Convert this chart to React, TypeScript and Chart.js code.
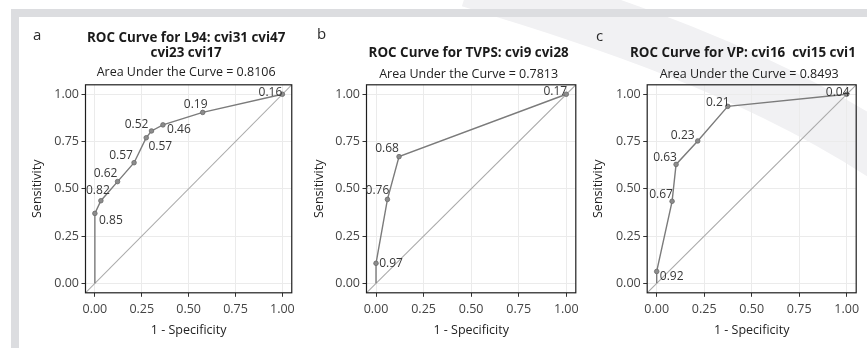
import React, { useEffect, useRef } from "react";
import { Chart, registerables } from "chart.js";

Chart.register(...registerables);

const FONT = "'Open Sans', 'Noto Sans', sans-serif";

// ---------- data ----------
const tickValues = [0, 0.25, 0.5, 0.75, 1];

// Panel a : L94
const fprA = [0, 0, 0.032, 0.121, 0.209, 0.274, 0.302, 0.363, 0.575, 1.0];
const tprA = [0, 0.37, 0.437, 0.538, 0.638, 0.77, 0.806, 0.838, 0.904, 1.0];
const cutA = ["", "0.85", "0.82", "0.62", "0.57", "0.57", "0.52", "0.46", "0.19", "0.16"];
const titleA = ["ROC Curve for L94: cvi31 cvi47", "cvi23 cvi17"];
const aucA = "0.8106";

// Panel b : TVPS
const fprB = [0, 0, 0.06, 0.121, 1.0];
const tprB = [0, 0.106, 0.444, 0.67, 1.0];
const cutB = ["", "0.97", "0.76", "0.68", "0.17"];
const titleB = ["ROC Curve for TVPS: cvi9 cvi28"];
const aucB = "0.7813";

// Panel c : VP
const fprC = [0, 0, 0.081, 0.102, 0.216, 0.374, 1.0];
const tprC = [0, 0.063, 0.434, 0.629, 0.753, 0.936, 1.0];
const cutC = ["", "0.92", "0.67", "0.63", "0.23", "0.21", "0.04"];
const titleC = ["ROC Curve for VP: cvi16  cvi15 cvi1"];
const aucC = "0.8493";

// ---------- label placement (pixel offsets from each point) ----------
const placeA: [number, number][] = [[0, 0], [16, 7], [-3, -10], [-12, -8], [-13, -7], [14, 9], [-15, -6], [16, 5], [-7, -8], [-12, -2]];
const placeB: [number, number][] = [[0, 0], [15, 0], [-10, -9], [-12, -8], [-11, -3]];
const placeC: [number, number][] = [[0, 0], [15, 5], [-11, -7], [-11, -7], [-15, -5], [-10, -4], [-9, -2]];

type Panel = {
  letter: string;
  title: string[];
  auc: string;
  fpr: number[];
  tpr: number[];
  cuts: string[];
  place: [number, number][];
  left: number;
  width: number;
  yAxisW: number;
  padRight: number;
  yTitlePad: number;
  letterX: number;
  letterY: number;
  titleY: number[];
  aucY: number;
  titleAlignLeft?: number;
};

const panels: Panel[] = [
  {
    letter: "a", title: titleA, auc: aucA, fpr: fprA, tpr: tprA, cuts: cutA, place: placeA,
    left: 20, width: 280, yAxisW: 65.5, padRight: 5.5, yTitlePad: 9.5,
    letterX: 13, letterY: 36, titleY: [38, 53], aucY: 72,
  },
  {
    letter: "b", title: titleB, auc: aucB, fpr: fprB, tpr: tprB, cuts: cutB, place: placeB,
    left: 300, width: 290, yAxisW: 66.5, padRight: 14.2, yTitlePad: 11.5,
    letterX: 17, letterY: 35, titleY: [53], aucY: 74,
  },
  {
    letter: "c", title: titleC, auc: aucC, fpr: fprC, tpr: tprC, cuts: cutC, place: placeC,
    left: 590, width: 277, yAxisW: 57.2, padRight: 10.8, yTitlePad: 0.5,
    letterX: 6, letterY: 37, titleY: [53], aucY: 74, titleAlignLeft: 40,
  },
];

const H = 348;
const PLOT_TOP = 84.8;
const X_AXIS_H = 55.2;

function PanelChart({ p }: { p: Panel }) {
  const ref = useRef<HTMLCanvasElement | null>(null);
  useEffect(() => {
    if (!ref.current) return;
    const pts = p.fpr.map((x, i) => ({ x, y: p.tpr[i] }));
    const radii = p.cuts.map((c) => (c === "" ? 0 : 2.3));

    const decor = {
      id: "decor",
      afterDatasetsDraw(chart: any) {
        const { ctx, chartArea } = chart;
        ctx.save();
        ctx.strokeStyle = "#1e1e1e";
        ctx.lineWidth = 1.2;
        ctx.strokeRect(chartArea.left, chartArea.top, chartArea.right - chartArea.left, chartArea.bottom - chartArea.top);
        // cutoff labels
        const meta = chart.getDatasetMeta(0);
        ctx.font = `12px ${FONT}`;
        ctx.fillStyle = "#383838";
        ctx.textAlign = "center";
        ctx.textBaseline = "middle";
        meta.data.forEach((el: any, i: number) => {
          const t = p.cuts[i];
          if (!t) return;
          const [dx, dy] = p.place[i];
          ctx.fillText(t, el.x + dx, el.y + dy);
        });
        ctx.restore();
      },
      afterDraw(chart: any) {
        const { ctx, chartArea } = chart;
        const cx = (chartArea.left + chartArea.right) / 2 - 2.5;
        ctx.save();
        ctx.fillStyle = "#2a2a2a";
        ctx.textBaseline = "middle";
        ctx.textAlign = "left";
        ctx.font = `15px ${FONT}`;
        ctx.fillText(p.letter, p.letterX, p.letterY);
        ctx.font = `bold 13.4px ${FONT}`;
        ctx.fillStyle = "#1a1a1a";
        p.title.forEach((line, i) => {
          if (p.titleAlignLeft !== undefined) {
            ctx.textAlign = "left";
            ctx.fillText(line, p.titleAlignLeft, p.titleY[i]);
          } else {
            ctx.textAlign = "center";
            ctx.fillText(line, cx, p.titleY[i]);
          }
        });
        ctx.textAlign = "center";
        ctx.font = `12.5px ${FONT}`;
        ctx.fillStyle = "#222";
        ctx.fillText(`Area Under the Curve = ${p.auc}`, cx, p.aucY);
        ctx.restore();
      },
    };

    const tickFont = { family: FONT, size: 12.5, lineHeight: 1.2 };
    const titleFont = { family: FONT, size: 12.5, lineHeight: 1.2 };

    const chart = new Chart(ref.current, {
      type: "line",
      data: {
        datasets: [
          {
            data: pts,
            borderColor: "#7b7b7b",
            borderWidth: 1.4,
            pointRadius: radii,
            pointBackgroundColor: "#8c8c8c",
            pointBorderColor: "#6a6a6a",
            pointBorderWidth: 0.8,
            tension: 0,
            order: 0,
          },
          {
            data: [{ x: -0.05, y: -0.05 }, { x: 1.05, y: 1.05 }],
            borderColor: "#aaaaaa",
            borderWidth: 1.1,
            pointRadius: 0,
            order: 1,
          },
        ],
      },
      options: {
        animation: false,
        responsive: false,
        maintainAspectRatio: false,
        events: [],
        layout: { padding: { top: PLOT_TOP, right: p.padRight, bottom: 0, left: 0 } },
        plugins: {
          legend: { display: false },
          tooltip: { enabled: false },
          title: { display: false },
        },
        scales: {
          x: {
            type: "linear",
            min: -0.05,
            max: 1.05,
            afterBuildTicks: (s: any) => {
              s.ticks = tickValues.map((v) => ({ value: v }));
            },
            afterFit: (s: any) => {
              s.height = X_AXIS_H;
            },
            ticks: {
              callback: (v: any) => Number(v).toFixed(2),
              font: tickFont,
              color: "#444",
              padding: 5,
              maxRotation: 0,
              autoSkip: false,
            },
            grid: { color: "#ebebeb", lineWidth: 1, tickColor: "#333", tickLength: 4, tickWidth: 1 },
            border: { display: false },
            title: { display: true, text: "1 - Specificity", font: titleFont, color: "#222", padding: { top: 0, bottom: 10.5 } },
          },
          y: {
            type: "linear",
            min: -0.05,
            max: 1.05,
            afterBuildTicks: (s: any) => {
              s.ticks = tickValues.map((v) => ({ value: v }));
            },
            afterFit: (s: any) => {
              s.width = p.yAxisW;
            },
            ticks: {
              callback: (v: any) => Number(v).toFixed(2),
              font: tickFont,
              color: "#444",
              padding: 2.5,
              autoSkip: false,
            },
            grid: { color: "#ebebeb", lineWidth: 1, tickColor: "#333", tickLength: 4, tickWidth: 1 },
            border: { display: false },
            title: { display: true, text: "Sensitivity", font: titleFont, color: "#222", padding: { top: p.yTitlePad, bottom: 0 } },
          },
        },
      },
      plugins: [decor],
    } as any);
    return () => chart.destroy();
  }, [p]);

  return (
    <canvas
      ref={ref}
      width={p.width}
      height={H}
      style={{ position: "absolute", left: p.left, top: 0, width: p.width, height: H }}
    />
  );
}

export default function App() {
  return (
    <div style={{ position: "absolute", left: 0, top: 0, width: 867, height: 348, background: "#fff", overflow: "hidden" }}>
      <svg width={867} height={348} style={{ position: "absolute", left: 0, top: 0 }}>
        <path d="M 470 -20 C 600 20, 760 70, 900 165" stroke="#f1f1f3" strokeWidth={55} fill="none" />
        <rect x={11} y={9} width={856} height={8} fill="#dcdde0" />
        <rect x={11} y={9} width={8} height={339} fill="#dcdde0" />
      </svg>
      {panels.map((p) => (
        <PanelChart key={p.letter} p={p} />
      ))}
    </div>
  );
}
